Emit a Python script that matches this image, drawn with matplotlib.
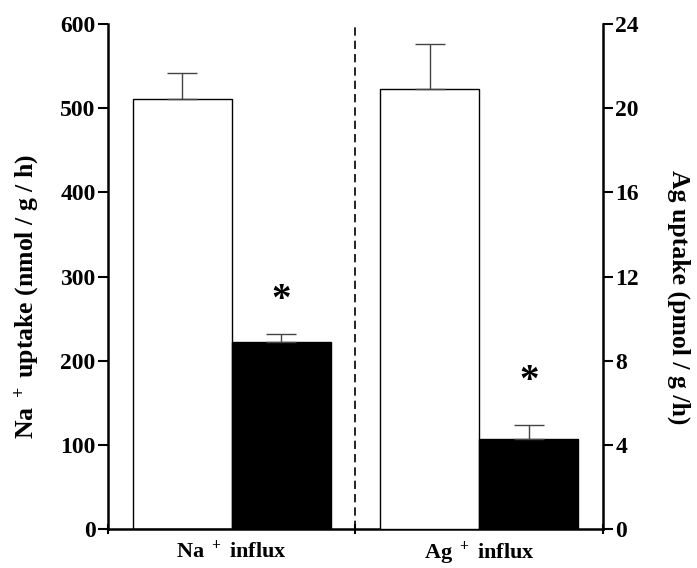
import numpy as np
import matplotlib.pyplot as plt

# data
groups = ["Na $^+$ influx", "Ag $^+$ influx"]
na_means = [511, 222]      # control, exposed (nmol/g/h)
na_err = [31, 10]
ag_means = [20.9, 4.3]     # control, exposed (pmol/g/h)
ag_err = [2.15, 0.62]
signif = ["", "*"]

plt.rcParams['font.family'] = ['Liberation Serif', 'DejaVu Serif']
plt.rcParams['font.weight'] = 'bold'
plt.rcParams['mathtext.fontset'] = 'custom'
plt.rcParams['mathtext.rm'] = 'Liberation Serif:bold'
plt.rcParams['mathtext.it'] = 'Liberation Serif:bold'
plt.rcParams['mathtext.bf'] = 'Liberation Serif:bold'

fig = plt.figure(figsize=(6.97, 5.68), dpi=100)
ax = fig.add_axes([0.155, 0.0687, 0.71, 0.889])
ax2 = ax.twinx()

centers = [1.25, 3.75]
w = 1.0
colors = ["white", "black"]

# Na+ bars on left axis
for i in range(2):
    x = centers[0] - w / 2 + i * w
    ax.bar(x, na_means[i], width=w, color=colors[i], edgecolor="black", linewidth=1)
    ax.errorbar(x, na_means[i], yerr=[[0], [na_err[i]]], fmt="none", ecolor="#444444",
                elinewidth=1, capsize=11, capthick=1)
    if signif[i]:
        ax.text(x, na_means[i] + na_err[i] + 40, signif[i], ha="center", va="center",
                fontsize=28, fontweight="bold")

# Ag bars on right axis
for i in range(2):
    x = centers[1] - w / 2 + i * w
    ax2.bar(x, ag_means[i], width=w, color=colors[i], edgecolor="black", linewidth=1)
    ax2.errorbar(x, ag_means[i], yerr=[[0], [ag_err[i]]], fmt="none", ecolor="#444444",
                 elinewidth=1, capsize=11, capthick=1)
    if signif[i]:
        ax2.text(x, ag_means[i] + ag_err[i] + 2.1, signif[i], ha="center", va="center",
                 fontsize=28, fontweight="bold")

ax.axvline(2.5, color="black", linestyle=(0, (5, 3)), linewidth=1.2)

ax.set_xlim(0, 5)
ax.set_ylim(0, 600)
ax2.set_ylim(0, 24)
ax.set_yticks(np.arange(0, 601, 100))
ax2.set_yticks(np.arange(0, 25, 4))
ax.set_xticks([0, 2.5, 5])
ax.set_xticklabels([])
ax.tick_params(axis="x", length=7, width=1.5, direction="inout")
for i, g in enumerate(groups):
    ax.text(centers[i], -0.021, g, transform=ax.get_xaxis_transform(), ha="center", va="top",
            fontsize=16, fontweight="bold")

for a in (ax, ax2):
    a.spines["top"].set_visible(False)
    for s in a.spines.values():
        s.set_linewidth(1.8)
    a.tick_params(axis="y", length=7, width=1.5, labelsize=17, pad=2)
ax.spines["right"].set_visible(False)
ax2.spines["left"].set_visible(False)
ax2.spines["bottom"].set_visible(False)

ax.set_ylabel("Na $^+$ uptake (nmol / g / h)", fontsize=18.5, fontweight="bold", labelpad=14)
ax2.set_ylabel("Ag uptake (pmol / g /h)", fontsize=18.5, fontweight="bold", rotation=270, labelpad=37)
ax.yaxis.label.set_y(0.46)
ax2.yaxis.label.set_y(0.46)

fig.savefig("out.png", dpi=100)
